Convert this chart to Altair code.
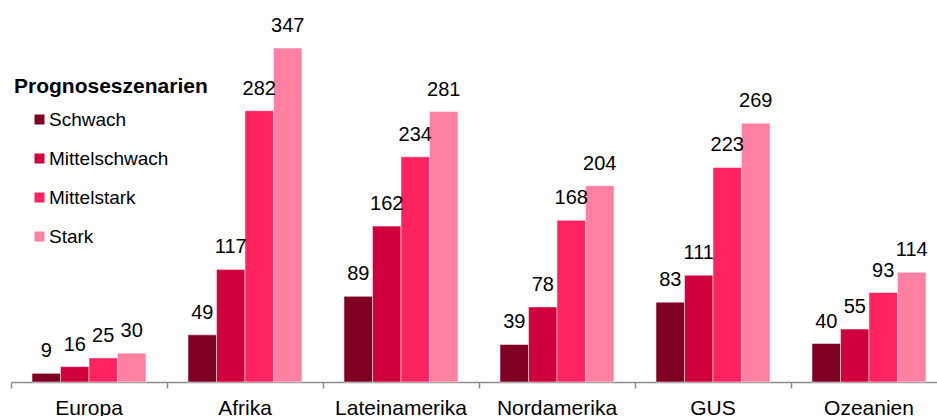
import altair as alt
import pandas as pd

regions = ["Europa", "Afrika", "Lateinamerika", "Nordamerika", "GUS", "Ozeanien"]
scenarios = ["Schwach", "Mittelschwach", "Mittelstark", "Stark"]
colors = ["#800024", "#D0003C", "#FF2460", "#FF80A0"]
schwach = [9, 49, 89, 39, 83, 40]
mittelschwach = [16, 117, 162, 78, 111, 55]
mittelstark = [25, 282, 234, 168, 223, 93]
stark = [30, 347, 281, 204, 269, 114]

series = [schwach, mittelschwach, mittelstark, stark]
rows = []
for s, vals in zip(scenarios, series):
    for r, v in zip(regions, vals):
        rows.append({"Region": r, "Szenario": s, "Wert": v})
df = pd.DataFrame(rows)

FONT = "Liberation Sans"

x = alt.X("Region:N", sort=regions, title=None,
          scale=alt.Scale(paddingInner=0, paddingOuter=0, range=[0, 936]),
          axis=alt.Axis(labelAngle=0, bandPosition=0, domainColor="#8c8c8c", tickColor="#8c8c8c",
                        domainWidth=1.5, tickWidth=1.5, tickSize=6, labelPadding=9,
                        labelFontSize=21, labelColor="black", labelFont=FONT, grid=False))
xo = alt.XOffset("Szenario:N", sort=scenarios,
                 scale=alt.Scale(paddingInner=0, paddingOuter=0.737))
y = alt.Y("Wert:Q", scale=alt.Scale(domain=[0, 397]), axis=None)

bars = alt.Chart(df).mark_bar(stroke="white", strokeWidth=0.5).encode(
    x=x, xOffset=xo, y=y,
    color=alt.Color("Szenario:N", sort=scenarios,
                    scale=alt.Scale(domain=scenarios, range=colors),
                    legend=alt.Legend(title="Prognoseszenarien", orient="none",
                                      legendX=3, legendY=76, symbolType="square",
                                      symbolSize=100, symbolOffset=16, symbolStrokeWidth=0,
                                      rowPadding=19, titlePadding=13, labelOffset=0,
                                      titleLimit=400, labelLimit=400,
                                      titleFontSize=21, titleFont=FONT, titleFontWeight="bold",
                                      titleColor="black", labelFontSize=19, labelFont=FONT,
                                      labelColor="black", padding=0)),
)

labels = alt.Chart(df).mark_text(baseline="alphabetic", dy=-16, fontSize=20, font=FONT,
                                 color="black").encode(
    x=x, xOffset=xo, y=y, text=alt.Text("Wert:Q"),
)

chart = alt.layer(bars, labels).properties(
    width=926, height=382,
    autosize=alt.AutoSizeParams(type="none"),
    padding={"left": 11, "top": 0, "right": 0, "bottom": 34},
).configure(background="white").configure_view(
    stroke="white", strokeWidth=0, strokeOpacity=0
).configure_axisY(domain=False, ticks=False, labels=False, grid=False)

chart.save("out.html", embed_options={"renderer": "svg", "actions": False})
